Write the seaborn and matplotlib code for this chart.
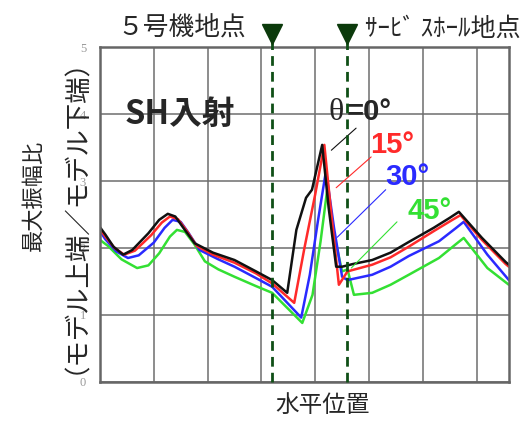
import numpy as np
import pandas as pd
import matplotlib
matplotlib.use("Agg")
import matplotlib.pyplot as plt
import seaborn as sns

# =====================
# DATA
# =====================
x_0 = [0, 0.1, 0.25, 0.43, 0.6, 0.9, 1.1, 1.26, 1.4, 1.55, 1.76, 2.1, 2.5, 2.9, 3.2, 3.48,
       3.65, 3.83, 3.94, 4.13, 4.25, 4.39, 4.5, 4.7, 5.06, 5.4, 5.74, 6.2, 6.5, 6.67, 7.1, 7.54, 7.6]
y_0 = [2.31, 2.2, 2.02, 1.9, 1.97, 2.22, 2.42, 2.51, 2.47, 2.3, 2.07, 1.93, 1.82, 1.65, 1.52, 1.33,
       2.27, 2.75, 2.87, 3.54, 2.6, 1.72, 1.72, 1.76, 1.82, 1.93, 2.09, 2.3, 2.45, 2.54, 2.15, 1.79, 1.75]

x_15 = [0, 0.1, 0.27, 0.45, 0.65, 0.95, 1.15, 1.3, 1.45, 1.6, 1.8, 2.1, 2.5, 2.9, 3.2, 3.61,
        3.8, 4.0, 4.17, 4.3, 4.44, 4.6, 5.06, 5.4, 5.74, 6.2, 6.55, 6.7, 7.1, 7.54, 7.6]
y_15 = [2.28, 2.17, 2.0, 1.9, 1.96, 2.19, 2.38, 2.47, 2.43, 2.27, 2.03, 1.9, 1.78, 1.62, 1.47, 1.18,
        2.0, 2.8, 3.54, 2.5, 1.45, 1.65, 1.75, 1.86, 2.02, 2.25, 2.42, 2.49, 2.12, 1.76, 1.72]

x_30 = [0, 0.1, 0.3, 0.52, 0.72, 1.0, 1.2, 1.35, 1.5, 1.65, 1.85, 2.2, 2.5, 2.9, 3.2, 3.74,
        3.9, 4.05, 4.2, 4.35, 4.5, 4.6, 5.06, 5.4, 5.74, 6.3, 6.62, 6.76, 7.2, 7.6]
y_30 = [2.25, 2.13, 1.95, 1.85, 1.89, 2.08, 2.3, 2.42, 2.39, 2.22, 1.97, 1.83, 1.72, 1.55, 1.42, 0.96,
        1.6, 2.4, 3.15, 2.3, 1.57, 1.52, 1.6, 1.72, 1.88, 2.1, 2.3, 2.39, 1.9, 1.52]

x_45 = [0, 0.15, 0.4, 0.69, 0.9, 1.1, 1.3, 1.43, 1.58, 1.75, 1.95, 2.2, 2.5, 2.9, 3.2, 3.76,
        3.95, 4.1, 4.22, 4.35, 4.5, 4.6, 4.72, 5.06, 5.4, 5.74, 6.3, 6.62, 6.76, 7.2, 7.6]
y_45 = [2.12, 2.03, 1.83, 1.70, 1.74, 1.92, 2.17, 2.27, 2.24, 2.06, 1.8, 1.68, 1.57, 1.43, 1.33, 0.88,
        1.3, 2.1, 2.85, 2.2, 1.65, 1.68, 1.3, 1.33, 1.45, 1.6, 1.85, 2.06, 2.15, 1.7, 1.45]

angles = ["0", "15", "30", "45"]
colors = ["#111111", "#ff2a2a", "#2a2aff", "#33e033"]

site_x = [3.19, 4.59]          # 5号機地点, サービスホール地点
y_ticks = [0, 1, 2, 3, 4, 5]

# =====================
# BUILD TABLE
# =====================
frames = []
for a, xs, ys in zip(angles, [x_0, x_15, x_30, x_45], [y_0, y_15, y_30, y_45]):
    frames.append(pd.DataFrame({"x": xs, "y": ys, "angle": a}))
df = pd.concat(frames, ignore_index=True)

# =====================
# PLOT
# =====================
sns.set_style("white")
plt.rcParams['font.family'] = ['Noto Sans CJK JP', 'DejaVu Sans']

fig = plt.figure(figsize=(5.29, 4.21), dpi=100)
ax = fig.add_axes([0.189, 0.093, 0.773, 0.795])

sns.lineplot(data=df, x="x", y="y", hue="angle", palette=dict(zip(angles, colors)),
             hue_order=angles[::-1], estimator=None, sort=False, units="angle",
             linewidth=1.8, legend=False, ax=ax)

ax.set_xlim(0, 7.6)
ax.set_ylim(0, 5)
ax.set_xticks(range(1, 8))
ax.set_xticklabels([])
ax.set_yticks(y_ticks)
ax.set_yticklabels([str(t) for t in y_ticks], family="Liberation Serif", fontsize=9, color="#999999")
ax.tick_params(axis="y", length=3, color="#bbbbbb", pad=7)
ax.tick_params(axis="x", length=0)
ax.set_axisbelow(True)
ax.grid(True, color="#6e6e6e", linewidth=1.1)
ax.set_xlabel("")
ax.set_ylabel("")
for s in ax.spines.values():
    s.set_color("#666666")
    s.set_linewidth(1.8)

# site markers
for sx in site_x:
    ax.plot([sx, sx], [0, 5.1], color="#0f4f16", linestyle=(0, (3.5, 2.2)),
            linewidth=2.0, clip_on=False, zorder=5)
    ax.plot(sx, 5.19, marker="v", color="#0b3a0b", markersize=15, clip_on=False, zorder=6)

fig.text(0.343, 0.932, "５号機地点", fontsize=18.5, ha="center", va="center")
fig.text(0.69, 0.932, "ｻｰﾋﾞ ｽﾎｰﾙ地点", fontsize=18, ha="left", va="center")

# in-plot texts
ax.text(0.45, 4.0, "SH入射", fontsize=23.5, fontweight="bold", va="center", ha="left")
ax.text(4.24, 4.03, "θ", fontsize=23, family="Liberation Serif", va="center", ha="left")
ax.text(4.58, 4.03, "=0°", fontsize=21, fontweight="bold", family="Liberation Sans",
        va="center", ha="left")
ax.text(5.02, 3.54, "15°", fontsize=21, fontweight="bold", family="Liberation Sans",
        color=colors[1], va="center", ha="left")
ax.text(5.31, 3.06, "30°", fontsize=21, fontweight="bold", family="Liberation Sans",
        color=colors[2], va="center", ha="left")
ax.text(5.72, 2.55, "45°", fontsize=21, fontweight="bold", family="Liberation Sans",
        color=colors[3], va="center", ha="left")

# leader lines
leaders = [((4.76, 3.79), (4.30, 3.46)), ((5.04, 3.36), (4.39, 2.90)),
           ((5.31, 2.87), (4.41, 2.16)), ((5.52, 2.39), (4.67, 1.70))]
for (p0, p1), c in zip(leaders, colors):
    ax.annotate("", xy=p1, xytext=p0,
                arrowprops=dict(arrowstyle="-", color=c, linewidth=0.8, shrinkA=0, shrinkB=0))

# axis labels
fig.text(0.062, 0.537, "最大振幅比", fontsize=16, rotation=90, ha="center", va="center")
fig.text(0.119, 0.52, "（モデル上端／モデル下端）", fontsize=19, rotation=90, ha="center", va="center")
fig.text(0.61, 0.036, "水平位置", fontsize=17, ha="center", va="center")

plt.savefig("out.png", dpi=100)
plt.close()
